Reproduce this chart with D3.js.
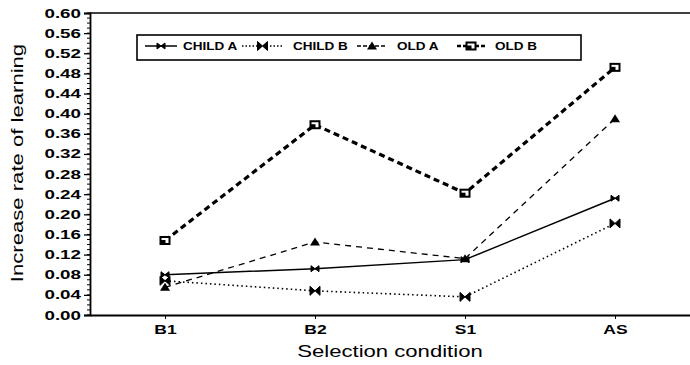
<!DOCTYPE html>
<html>
<head>
<meta charset="utf-8">
<script src="https://cdn.jsdelivr.net/npm/d3@7"></script>
<style>
  html, body { margin: 0; padding: 0; background: #fff; }
  svg { display: block; }
</style>
</head>
<body>
<div id="chart"></div>
<script>
const conditions = ['B1', 'B2', 'S1', 'AS'];
const childA = [0.08, 0.092, 0.11, 0.232];
const childB = [0.068, 0.048, 0.036, 0.182];
const oldA = [0.055, 0.145, 0.112, 0.39];
const oldB = [0.148, 0.378, 0.242, 0.492];
const yTicks = d3.range(0, 0.6001, 0.04);
const yMinor = d3.range(0, 0.6001, 0.01);

const W = 690, H = 365;
const plotL = 90, plotR = 690, plotT = 13, plotB = 315;
const font = 'Liberation Sans, Arial, Helvetica, sans-serif';

const svg = d3.select('#chart').append('svg').attr('width', W).attr('height', H);

const x = d3.scalePoint().domain(conditions).range([plotL, plotR]).padding(0.5);
const y = d3.scaleLinear().domain([0, 0.6]).range([plotB, plotT]);

// scanned fonts are wide; stretch text horizontally
function stretch(sel, k) {
  sel.each(function () {
    const len = this.getComputedTextLength();
    d3.select(this).attr('textLength', len * k).attr('lengthAdjust', 'spacingAndGlyphs');
  });
}

// frame line at top
svg.append('line').attr('x1', plotL).attr('x2', plotR).attr('y1', plotT).attr('y2', plotT)
  .attr('stroke', '#000').attr('stroke-width', 1.6);

// minor y ticks
svg.append('g').selectAll('line').data(yMinor).join('line')
  .attr('x1', plotL - 3).attr('x2', plotL)
  .attr('y1', (d) => y(d)).attr('y2', (d) => y(d))
  .attr('stroke', '#000').attr('stroke-width', 1);

const yAxis = svg.append('g').attr('transform', `translate(${plotL},0)`)
  .call(d3.axisLeft(y).tickValues(yTicks).tickFormat(d3.format('.2f')).tickSize(6).tickPadding(3));
yAxis.select('.domain').attr('stroke-width', 1.8);
yAxis.selectAll('.tick line').attr('stroke-width', 1.3);
yAxis.selectAll('text').attr('font-family', font).attr('font-size', 12.5).attr('font-weight', 'bold').attr('fill', '#000');
stretch(yAxis.selectAll('text'), 1.5);

const xAxis = svg.append('g').attr('transform', `translate(0,${plotB})`)
  .call(d3.axisBottom(x).tickSize(4).tickPadding(6).tickSizeOuter(0));
xAxis.select('.domain').attr('stroke-width', 1.8);
xAxis.selectAll('text').attr('font-family', font).attr('font-size', 12.5).attr('font-weight', 'bold').attr('fill', '#000');
stretch(xAxis.selectAll('text'), 1.4);

// axis titles
const xt = svg.append('text').attr('x', x('B1') + (x('AS') - x('B1')) / 2).attr('y', 357)
  .attr('text-anchor', 'middle').attr('font-family', font).attr('font-size', 17).attr('fill', '#000')
  .text('Selection condition');
stretch(xt, 1.3);
const yt = svg.append('text').attr('transform', 'translate(23,163) rotate(-90)')
  .attr('text-anchor', 'middle').attr('font-family', font).attr('font-size', 17).attr('fill', '#000')
  .text('Increase rate of learning');
stretch(yt, 1.3);

// marker shapes
const bowSmall = 'M-4,-3L0,0L-4,3ZM4,-3L0,0L4,3Z';
const bowBig = 'M-5,-4.5L0,0L-5,4.5ZM5,-4.5L0,0L5,4.5Z';
function drawMarker(g, type) {
  if (type === 'bowSmall') g.append('path').attr('d', bowSmall).attr('fill', '#000').attr('stroke', '#000').attr('stroke-width', 1);
  else if (type === 'bowBig') g.append('path').attr('d', bowBig).attr('fill', '#000').attr('stroke', '#000').attr('stroke-width', 1);
  else if (type === 'tri') g.append('path').attr('d', 'M0,-4.5L5,3.5L-5,3.5Z').attr('fill', '#000');
  else if (type === 'sq') {
    g.append('rect').attr('x', -4.5).attr('y', -3.5).attr('width', 9).attr('height', 7)
      .attr('fill', '#fff').attr('stroke', '#000').attr('stroke-width', 2);
    g.append('rect').attr('x', -4.5).attr('y', -0.5).attr('width', 5).attr('height', 4).attr('fill', '#000');
  }
}

const series = [
  { name: 'CHILD A', values: childA, dash: null, width: 1.5, marker: 'bowSmall' },
  { name: 'CHILD B', values: childB, dash: '1.5,3', width: 1.6, marker: 'bowBig' },
  { name: 'OLD A', values: oldA, dash: '6,5', width: 1.3, marker: 'tri' },
  { name: 'OLD B', values: oldB, dash: '6,4', width: 3.2, marker: 'sq' },
];

const line = d3.line().x((d, i) => x(conditions[i])).y((d) => y(d));

series.forEach((s) => {
  svg.append('path').datum(s.values).attr('d', line)
    .attr('fill', 'none').attr('stroke', '#000').attr('stroke-width', s.width)
    .attr('stroke-dasharray', s.dash);
  s.values.forEach((v, i) => {
    const g = svg.append('g').attr('transform', `translate(${x(conditions[i])},${y(v)})`);
    drawMarker(g, s.marker);
  });
});

// legend
svg.append('rect').attr('x', 137).attr('y', 35).attr('width', 444).attr('height', 25)
  .attr('fill', '#fff').attr('stroke', '#000').attr('stroke-width', 1.6);
const legendPos = [
  { x0: 145, x1: 177, tx: 183 },
  { x0: 242, x1: 283, tx: 293 },
  { x0: 357, x1: 387, tx: 397 },
  { x0: 457, x1: 485, tx: 495 },
];
series.forEach((s, i) => {
  const p = legendPos[i];
  const ly = 46;
  svg.append('line').attr('x1', p.x0).attr('x2', p.x1).attr('y1', ly).attr('y2', ly)
    .attr('stroke', '#000').attr('stroke-width', Math.min(s.width, 2.5)).attr('stroke-dasharray', s.dash ? (i === 1 ? '1.5,2' : '4,2') : null);
  const g = svg.append('g').attr('transform', `translate(${(p.x0 + p.x1) / 2},${ly})`);
  drawMarker(g, s.marker);
  const t = svg.append('text').attr('x', p.tx).attr('y', ly + 4).attr('font-family', font)
    .attr('font-size', 10).attr('font-weight', 'bold').attr('fill', '#000').text(s.name);
  stretch(t, 1.35);
});
</script>
</body>
</html>
